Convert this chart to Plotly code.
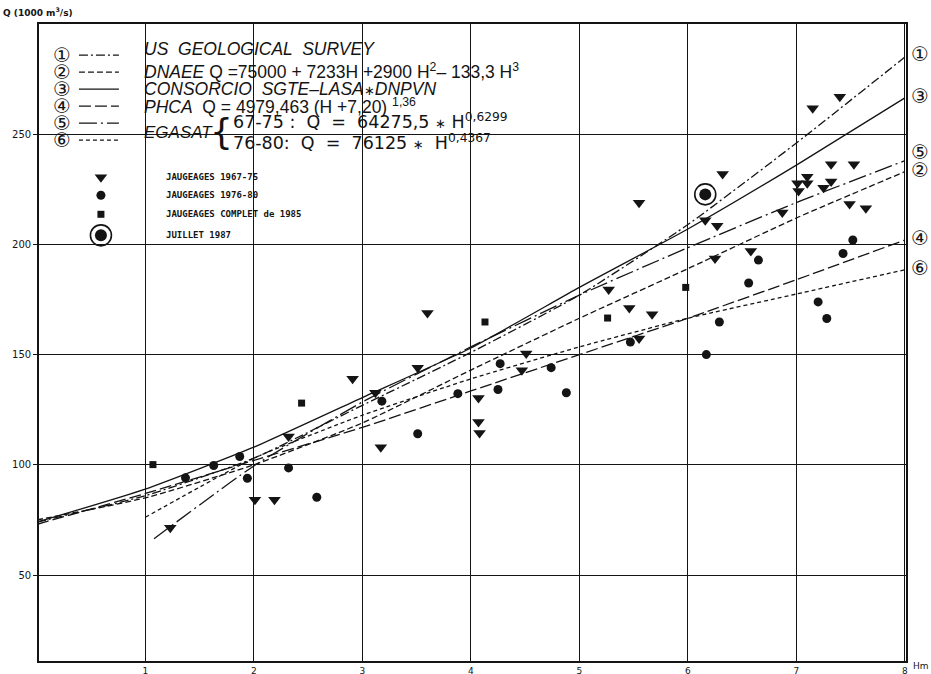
import plotly.graph_objects as go

# ---------------- data ----------------
# rating curves (H in m, Q in 1000 m3/s)
usgs_H = [0, 1, 2, 3, 4, 5, 6, 7, 8]
usgs_Q = [74, 86, 103, 127, 151, 177, 209, 246, 285]

dnaee_H = [0, 1, 2, 3, 4, 5, 6, 7, 8]
dnaee_Q = [75, 85, 100, 119, 143, 166.5, 189, 212, 233]

consorcio_H = [0, 1, 2, 3, 4, 5, 6, 7, 8]
consorcio_Q = [74, 89, 108, 130.5, 153, 180.5, 207, 236, 266.5]

phca_H = [0, 1, 2, 3, 4, 5, 6, 7, 8]
phca_Q = [73, 87, 102, 117, 133.5, 150, 166.5, 184, 202]

egasat6775_H = [1.08, 2, 3, 4, 5, 6, 7, 8]
egasat6775_Q = [66.5, 99.5, 128.5, 153.5, 177, 198.5, 219, 238]

egasat7680_H = [1, 2, 3, 4, 5, 6, 7, 8]
egasat7680_Q = [76.2, 103, 122.5, 139, 153.5, 166.5, 177.5, 188.5]

# gaugings
j6775_H = [1.23, 2.01, 2.19, 2.32, 2.91, 3.12, 3.17, 3.51, 3.60, 4.07, 4.07, 4.08, 4.47,
           4.51, 5.27, 5.46, 5.55, 5.55, 5.67, 6.16, 6.25, 6.27, 6.32, 6.58, 6.87, 7.01,
           7.02, 7.10, 7.10, 7.15, 7.25, 7.32, 7.32, 7.40, 7.49, 7.53, 7.64]
j6775_Q = [71.5, 84.2, 84.2, 112.9, 139.1, 132.7, 108, 144.1, 168.9, 130.3, 119.4, 114.4,
           142.9, 150.5, 179.5, 171.2, 218.9, 157.3, 168.3, 211, 193.6, 208.5, 232, 197,
           214.5, 227.7, 224.2, 230.7, 227.7, 261.8, 225.7, 236.4, 228.5, 267, 218.3,
           236.4, 216.4]

j7680_H = [1.37, 1.63, 1.87, 1.94, 2.32, 2.58, 3.18, 3.51, 3.88, 4.25, 4.27, 4.74, 4.88,
           5.47, 6.17, 6.29, 6.56, 6.65, 7.20, 7.28, 7.43, 7.52]
j7680_Q = [94.1, 99.7, 103.8, 93.9, 98.6, 85.3, 128.9, 114.1, 132.3, 134.2, 145.9, 144.1,
           132.7, 155.7, 150, 164.8, 182.5, 192.9, 173.9, 166.4, 195.9, 202]

j1985_H = [1.07, 2.44, 4.13, 5.26, 5.98]
j1985_Q = [100.1, 128, 164.8, 166.6, 180.5]

jul1987_H = [6.16]
jul1987_Q = [222.7]

x_ticks = [1, 2, 3, 4, 5, 6, 7, 8]
y_ticks = [50, 100, 150, 200, 250]

# ---------------- figure ----------------
# the page photo is squeezed vertically by ~2 %, so the figure is drawn a bit taller
W, HGT = 931, 688
K = HGT / 674.0
L, R = 38, 906
T, B = 24 * K, 660 * K
ink = "#141414"
TXT = "Liberation Sans"

styles = {
    "1": "9px,3px,2px,3px",
    "2": "6px,3px",
    "3": "solid",
    "4": "12px,4px",
    "5": "18px,4px,2px,4px",
    "6": "4px,3px",
}


def px(x):
    return (x - L) / (R - L)


def py(y):
    return (B - y * K) / (B - T)


fig = go.Figure()


def curve(x, y, dash):
    fig.add_trace(go.Scatter(x=x, y=y, mode="lines",
                             line=dict(color=ink, width=1.3, dash=dash, shape="spline", smoothing=0.5),
                             hoverinfo="skip", showlegend=False))


curve(usgs_H, usgs_Q, styles["1"])
curve(dnaee_H, dnaee_Q, styles["2"])
curve(consorcio_H, consorcio_Q, styles["3"])
curve(phca_H, phca_Q, styles["4"])
curve(egasat6775_H, egasat6775_Q, styles["5"])
curve(egasat7680_H, egasat7680_Q, styles["6"])


def pts(x, y, symbol, size, xa="x", ya="y"):
    fig.add_trace(go.Scatter(x=x, y=y, mode="markers", xaxis=xa, yaxis=ya,
                             marker=dict(symbol=symbol, size=size, color=ink, line=dict(width=0)),
                             hoverinfo="skip", showlegend=False, cliponaxis=False))


pts(j6775_H, j6775_Q, "triangle-down", 11)
pts(j7680_H, j7680_Q, "circle", 9)
pts(j1985_H, j1985_Q, "square", 7)
fig.add_trace(go.Scatter(x=jul1987_H, y=jul1987_Q, mode="markers",
                         marker=dict(symbol="circle-open", size=21, color=ink, line=dict(width=1.6)),
                         hoverinfo="skip", showlegend=False))
pts(jul1987_H, jul1987_Q, "circle", 12)


def note(x, y, text, size, family=TXT, anchor="left"):
    fig.add_annotation(x=px(x), y=py(y), xref="paper", yref="paper", text=text,
                       xanchor=anchor, yanchor="middle", showarrow=False,
                       font=dict(family=family, size=size, color=ink))


STAR = "<span style='font-size:13px'>∗</span>"

# ---------------- legend ----------------
CIRC = "①②③④⑤⑥"
rows = [
    ("1", 55, "<i>US  GEOLOGICAL  SURVEY</i>", 49),
    ("2", 72, "<i>DNAEE</i> Q =75000 + 7233H +2900 H<sup>2</sup>– 133,3 H<sup>3</sup>", 71),
    ("3", 89, "<i>CONSORCIO  SGTE–LASA</i>" + STAR + "<i>DNPVN</i>", 89),
    ("4", 106, "<i>PHCA</i>  Q = 4979,463 (H +7,20) <sup>1,36</sup>", 106),
    ("5", 123, None, None),
    ("6", 140, None, None),
]
for num, y, text, ty in rows:
    fig.add_trace(go.Scatter(x=[78, 118], y=[y * K, y * K], xaxis="x2", yaxis="y2", mode="lines",
                             line=dict(color=ink, width=1.3, dash=styles[num]),
                             hoverinfo="skip", showlegend=False, cliponaxis=False))
    note(61, y, CIRC[int(num) - 1], 20, "DejaVu Sans", "center")
    if text:
        note(141, ty, text, 17.5)

note(141, 132, "<i>EGASAT</i>", 17)
note(221, 131, "{", 36, "DejaVu Sans", "center")
note(230, 121, "67-75 :  Q  =  64275,5 " + STAR + " H<sup>0,6299</sup>", 17.5, "DejaVu Sans")
note(230, 142, "76-80:  Q  =  76125 " + STAR + "  H<sup>0,4367</sup>", 17.5, "DejaVu Sans")

mk_rows = [("triangle-down", 11, 177, "JAUGEAGES 1967-75"),
           ("circle", 9, 195, "JAUGEAGES 1976-80"),
           ("square", 7, 214, "JAUGEAGES COMPLET de 1985"),
           ("circle", 12, 235, "JUILLET 1987")]
for sym, sz, y, text in mk_rows:
    pts([100], [y * K], sym, sz, "x2", "y2")
    note(163, y, "<b>" + text + "</b>", 9, "DejaVu Sans Mono")
fig.add_trace(go.Scatter(x=[100], y=[235 * K], mode="markers", xaxis="x2", yaxis="y2",
                         marker=dict(symbol="circle-open", size=21, color=ink, line=dict(width=1.6)),
                         hoverinfo="skip", showlegend=False))

# right-hand curve numbers
for num, y in [("①", 54), ("③", 96), ("⑤", 152), ("②", 170), ("④", 238), ("⑥", 268)]:
    note(920, y, num, 20, "DejaVu Sans", "center")

# axis titles
note(0, 12, "<b>Q (1000 m<sup>3</sup>/s)</b>", 9, "DejaVu Sans")
note(911, 665, "Hm", 9, "DejaVu Sans")

fig.update_layout(
    width=W, height=HGT,
    margin=dict(l=L, r=W - R, t=T, b=HGT - B, pad=0),
    paper_bgcolor="white", plot_bgcolor="white",
    showlegend=False,
    xaxis=dict(range=[0.02, 8.01], tickvals=x_ticks, ticktext=[str(v) for v in x_ticks],
               showgrid=True, gridcolor=ink, gridwidth=1.2, zeroline=False,
               showline=True, mirror=True, linecolor=ink, linewidth=1.6,
               ticks="", tickfont=dict(family="DejaVu Sans", size=9, color=ink)),
    yaxis=dict(range=[11, 300], tickvals=y_ticks, ticktext=[str(v) for v in y_ticks],
               showgrid=True, gridcolor=ink, gridwidth=1.2, zeroline=False,
               showline=True, mirror=True, linecolor=ink, linewidth=1.6,
               ticks="outside", ticklen=4, tickcolor=ink,
               tickfont=dict(family="DejaVu Sans", size=10, color=ink)),
    xaxis2=dict(range=[L, R], overlaying="x", visible=False),
    yaxis2=dict(range=[B, T], overlaying="y", visible=False),
)

fig.write_html(
    "out.html",
    config={"displayModeBar": False},
    post_script=(
        "var gd=document.getElementById('{plot_id}');"
        "gd.style.position='absolute';gd.style.left='0px';gd.style.top='0px';"
        "document.body.style.margin='0';"
        "document.documentElement.style.overflow='hidden';"
        "document.body.style.overflow='hidden';"
    ),
)
